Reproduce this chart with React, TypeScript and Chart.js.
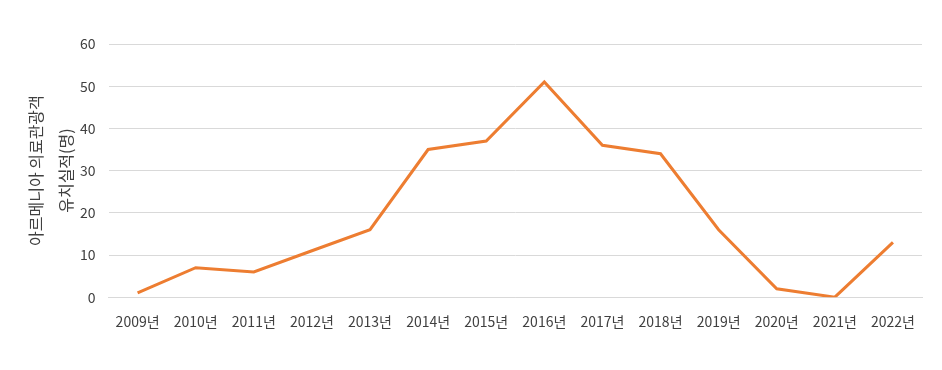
import React, { useEffect, useRef } from "react";
import { Chart, registerables } from "chart.js";

Chart.register(...registerables);

const categories = ["2009년", "2010년", "2011년", "2012년", "2013년", "2014년", "2015년", "2016년", "2017년", "2018년", "2019년", "2020년", "2021년", "2022년"];
const visitors = [1, 7, 6, 11, 16, 35, 37, 51, 36, 34, 16, 2, 0, 13];
const yTitle = ["아르메니아 의료관광객", "유치실적(명)"];

const FONT = "'Noto Sans CJK KR', 'Noto Sans', sans-serif";

const yTitlePlugin = {
  id: "yTitlePlugin",
  afterDraw(chart: any) {
    const { ctx, chartArea } = chart;
    const cy = (chartArea.top + chartArea.bottom) / 2;
    ctx.save();
    ctx.fillStyle = "#404040";
    ctx.font = `16px ${FONT}`;
    ctx.textAlign = "center";
    ctx.textBaseline = "middle";
    const xs = [chartArea.left - 73, chartArea.left - 43];
    yTitle.forEach((line, i) => {
      ctx.save();
      ctx.translate(xs[i], cy);
      ctx.rotate(-Math.PI / 2);
      ctx.fillText(line, 0, 0);
      ctx.restore();
    });
    ctx.restore();
  },
};

export default function App() {
  const ref = useRef<HTMLCanvasElement | null>(null);
  useEffect(() => {
    document.body.style.margin = "0";
    const ctx = ref.current!.getContext("2d")!;
    const chart = new Chart(ctx, {
      type: "line",
      data: {
        labels: categories,
        datasets: [
          {
            data: visitors,
            borderColor: "#ED7D31",
            backgroundColor: "#ED7D31",
            borderWidth: 3,
            pointRadius: 0,
            tension: 0,
          },
        ],
      },
      options: {
        animation: false,
        responsive: false,
        layout: { padding: { left: 67, right: 20, top: 44, bottom: 24 } },
        plugins: { legend: { display: false }, tooltip: { enabled: false } },
        scales: {
          x: {
            offset: true,
            grid: { display: false, drawTicks: false },
            border: { display: true, color: "#d9d9d9", width: 1 },
            ticks: { color: "#404040", font: { family: FONT, size: 14 }, padding: 16, maxRotation: 0, autoSkip: false },
          },
          y: {
            min: 0,
            max: 60,
            ticks: { stepSize: 10, color: "#404040", font: { family: FONT, size: 14 }, padding: 13 },
            grid: { color: "#d9d9d9", drawTicks: false },
            border: { display: false },
          },
        },
      },
      plugins: [yTitlePlugin],
    });
    return () => chart.destroy();
  }, []);
  return (
    <div style={{ width: 942, height: 370 }}>
      <canvas ref={ref} width={942} height={370} style={{ width: 942, height: 370, display: "block" }} />
    </div>
  );
}
